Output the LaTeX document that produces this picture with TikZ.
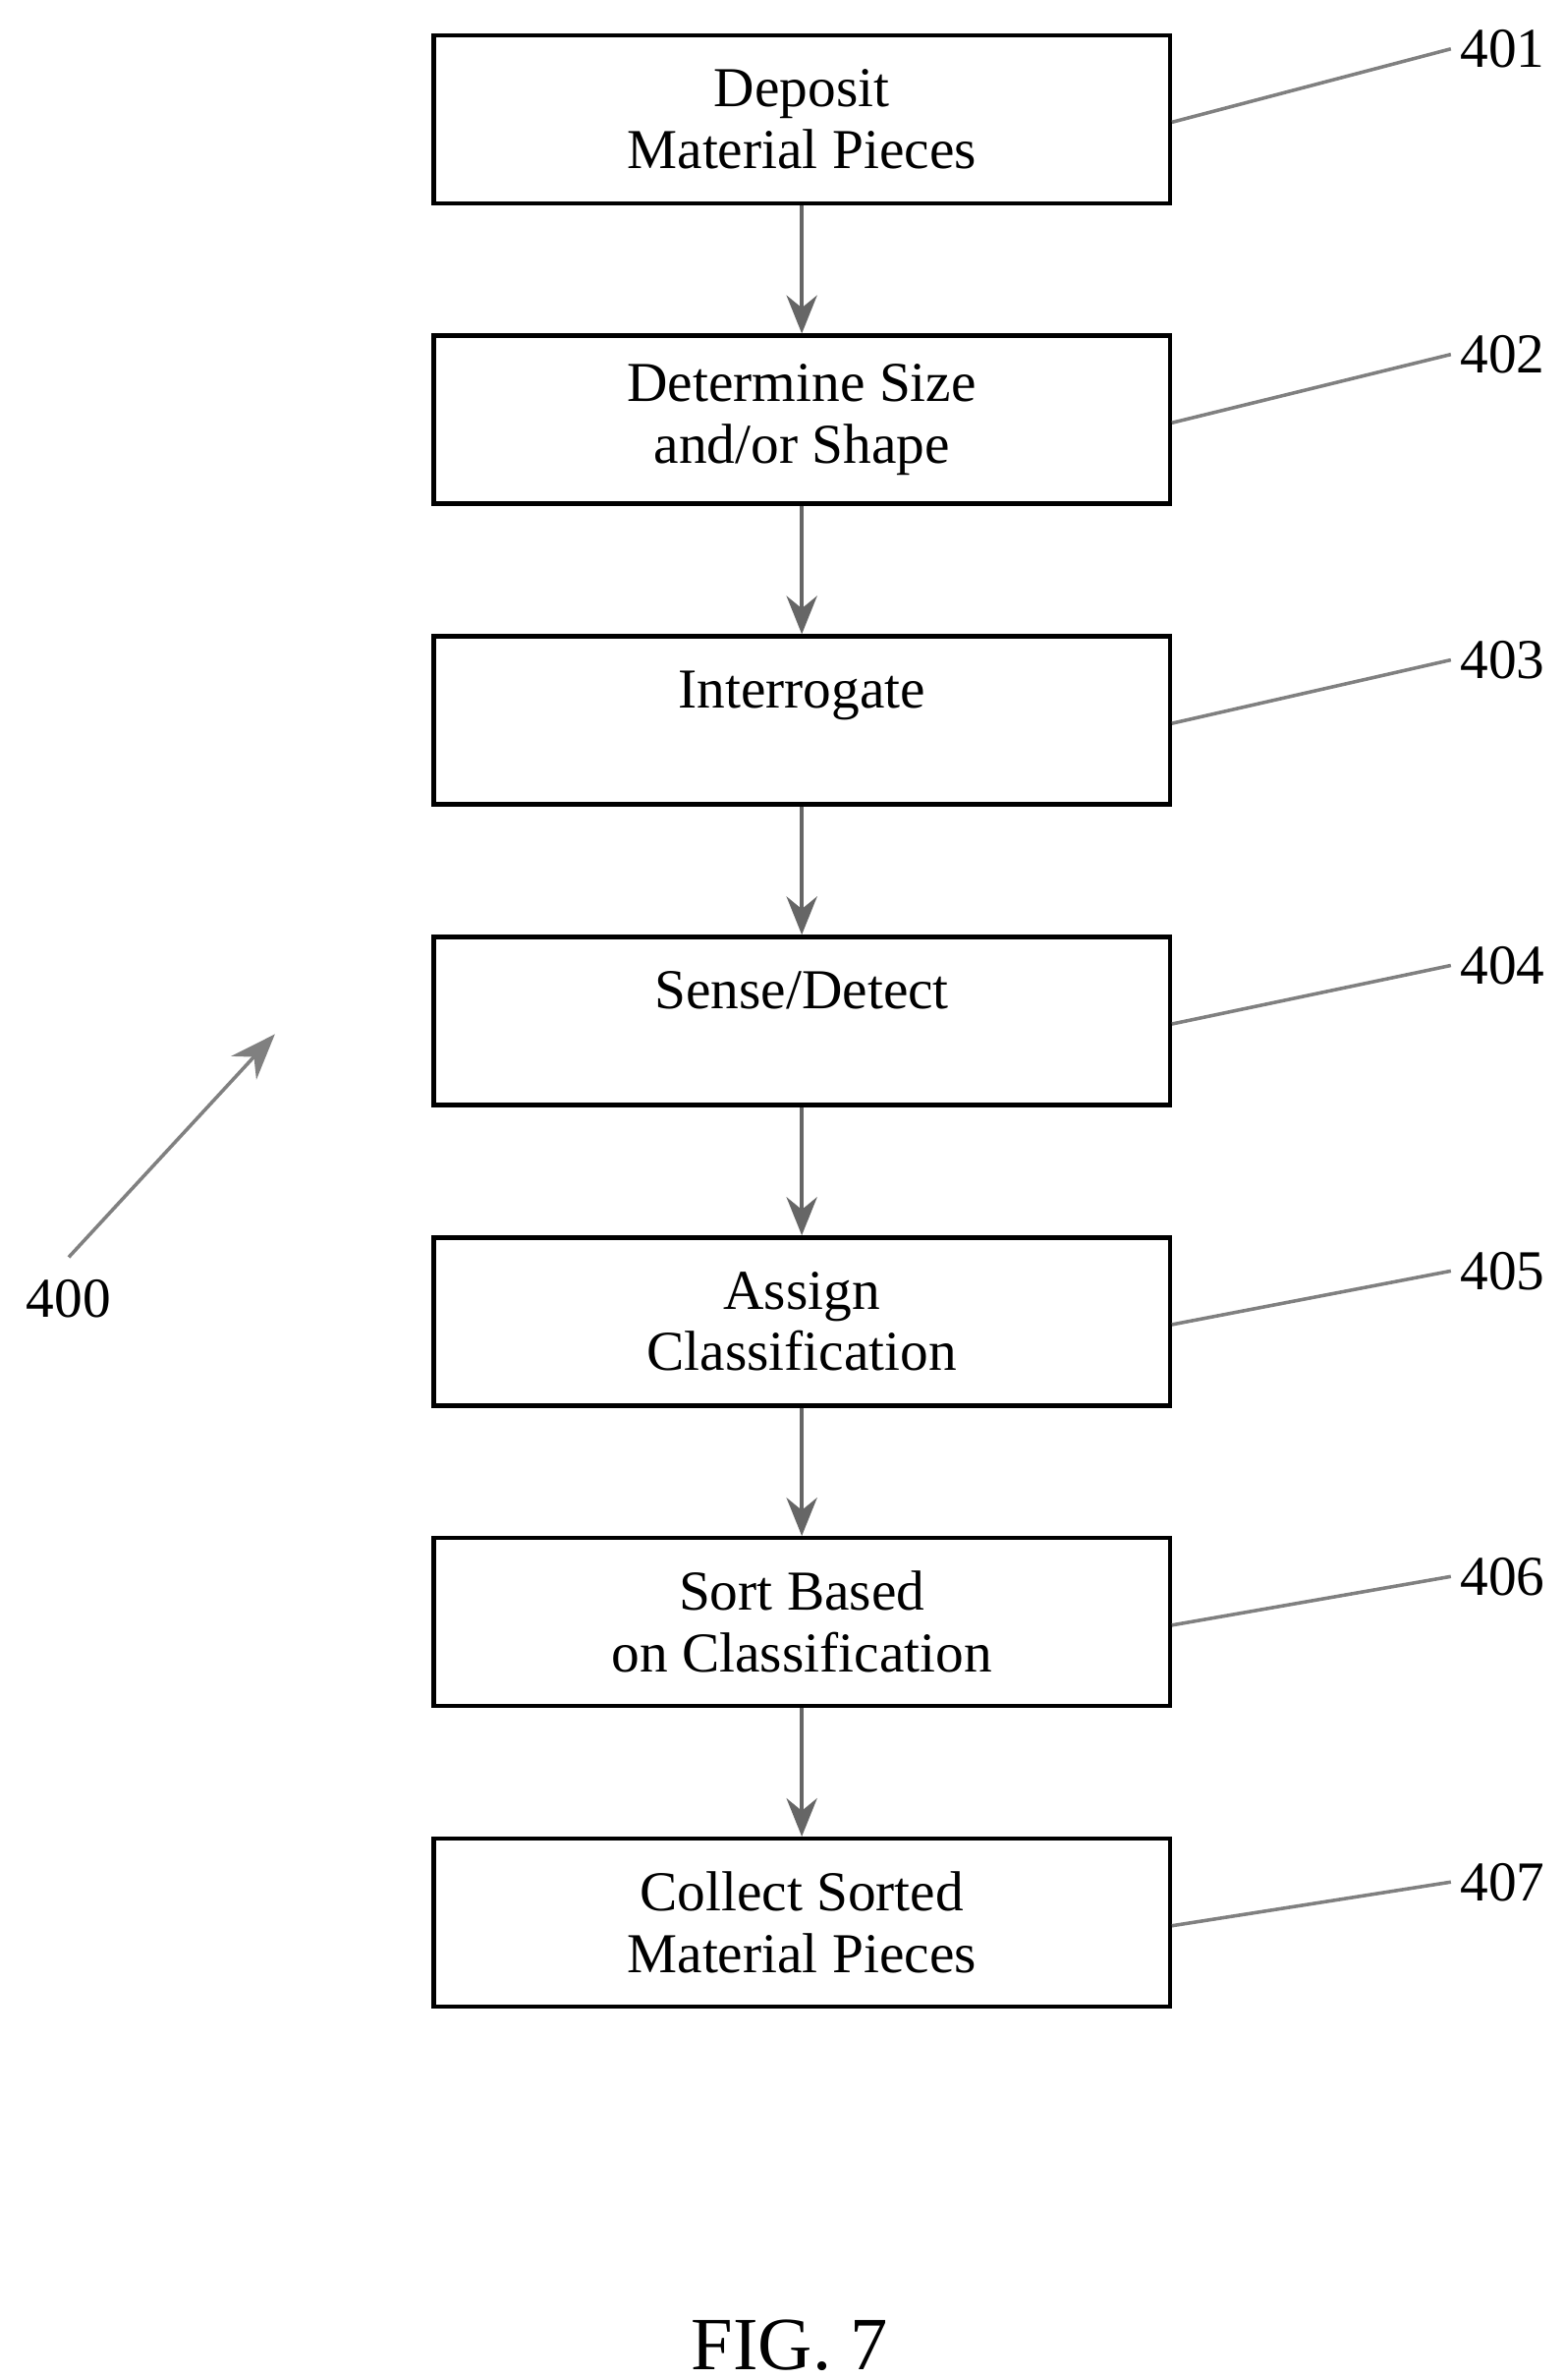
\documentclass[tikz,border=0pt]{standalone}
\usepackage{fontspec}
\setmainfont{Liberation Serif}
\usetikzlibrary{positioning,arrows.meta}
\tikzset{
  stage/.style={draw, line width=1.6pt, minimum width=9.64cm, minimum height=2.2cm, align=center, font=\fontsize{21}{23}\selectfont},
  flow/.style={-{Stealth[length=5mm,width=4mm]}, line width=1.6pt, gray!80!black},
  lead/.style={line width=1.3pt, gray},
  num/.style={font=\fontsize{21}{24}\selectfont}
}
\begin{document}
\begin{tikzpicture}[x=0.02cm, y=-0.02cm]
\useasboundingbox (0,0) rectangle (1024,1558);
\node[stage] (S1) at (525,78) {Deposit\\Material Pieces};
\node[stage, below=1.68cm of S1] (S2) {Determine Size\\and/or Shape};
\node[stage, below=1.68cm of S2] (S3) {Interrogate\\\phantom{X}};
\node[stage, below=1.68cm of S3] (S4) {Sense/Detect\\\phantom{X}};
\node[stage, below=1.68cm of S4] (S5) {Assign\\Classification};
\node[stage, below=1.68cm of S5] (S6) {Sort Based\\on Classification};
\node[stage, below=1.68cm of S6] (S7) {Collect Sorted\\Material Pieces};

\foreach \a/\b in {S1/S2,S2/S3,S3/S4,S4/S5,S5/S6,S6/S7}
  \draw[flow] (\a) -- (\b);

% reference numerals
\foreach \i in {1,...,7} {
  \node[num, anchor=west] (L\i) at (950,{32+(\i-1)*200}) {40\i};
  \draw[lead] ([yshift=-0.04cm]S\i.east) -- (L\i.west);
}

\node[num] (L0) at (45,850) {400};
\coordinate (A0) at (180,677);
\draw[lead, -{Stealth[length=6mm,width=4.5mm]}] (45,823) -- (A0);

\node[font=\fontsize{28}{30}\selectfont] (fig) at (517,1535) {FIG. 7};
\end{tikzpicture}
\end{document}
